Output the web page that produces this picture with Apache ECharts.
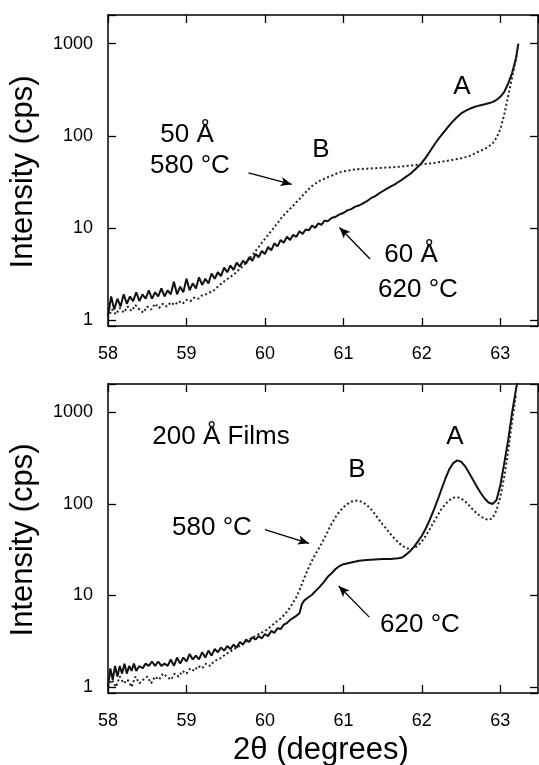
<!DOCTYPE html>
<html><head><meta charset="utf-8">
<script src="https://cdn.jsdelivr.net/npm/echarts@6/dist/echarts.min.js"></script>
<style>html,body{margin:0;padding:0;background:#fff}#c{width:539px;height:765px}</style>
</head><body><div id="c"></div>
<script>
// ---- data ----
const xTicks = [58, 59, 60, 61, 62, 63];
const yTicks = [1, 10, 100, 1000];

// Top panel: 60 Å, 620 °C (solid)
const top620 = [
[58.00,1.1],[58.04,1.8],[58.08,1.3],[58.12,1.7],[58.16,1.4],[58.20,1.9],[58.24,1.5],[58.28,1.8],[58.32,1.6],[58.36,2.0],
[58.40,1.6],[58.44,1.9],[58.48,1.7],[58.52,2.1],[58.56,1.7],[58.60,2.0],[58.64,1.8],[58.68,2.2],[58.72,1.8],[58.76,2.1],
[58.80,1.9],[58.84,2.6],[58.88,1.9],[58.92,2.3],[58.96,2.0],[59.00,2.8],[59.04,2.1],[59.08,2.5],[59.12,2.2],[59.16,2.9],
[59.20,2.4],[59.24,2.8],[59.28,2.5],[59.32,3.2],[59.36,2.8],[59.40,3.3],[59.44,3.0],[59.48,3.7],[59.52,3.3],[59.56,3.9],
[59.60,3.5],[59.64,4.2],[59.68,3.8],[59.72,4.4],[59.76,4.1],[59.80,4.8],[59.84,4.4],[59.88,5.2],[59.92,4.8],[59.96,5.6],
[60.00,5.2],[60.04,6.2],[60.08,5.7],[60.12,6.8],[60.16,6.3],[60.20,7.4],[60.24,6.9],[60.28,8.0],[60.32,7.4],[60.36,8.4],
[60.40,8.0],[60.44,9.2],[60.48,8.6],[60.52,9.6],[60.56,9.4],[60.60,10.6],[60.64,10.0],[60.68,11.2],[60.72,10.8],[60.76,12.0],
[60.80,11.8],[60.85,12.8],[60.90,13.2],[60.95,14.0],[61.00,14.5],[61.05,15.5],[61.10,16.0],[61.15,17.0],[61.20,17.5],[61.25,18.5],
[61.30,19.5],[61.35,21.0],[61.40,22.0],[61.45,23.5],[61.50,25.0],[61.55,26.5],[61.60,28.0],[61.65,29.5],[61.70,31.5],[61.75,33.5],
[61.80,36.0],[61.85,38.5],[61.90,42.0],[61.95,46.0],[62.00,51.0],[62.05,58.0],[62.10,67.0],[62.15,78.0],[62.20,90.0],[62.25,102],
[62.30,115],[62.35,130],[62.40,145],[62.45,160],[62.50,175],[62.55,185],[62.60,195],[62.65,203],[62.70,210],[62.75,215],
[62.80,220],[62.85,226],[62.90,232],[62.95,245],[63.00,265],[63.05,300],[63.10,370],[63.15,480],[63.20,700],[63.23,1000]
];
// Top panel: 50 Å, 580 °C (dotted)
const top580 = [
[58.00,1.05],[58.05,1.3],[58.10,1.15],[58.15,1.35],[58.20,1.2],[58.25,1.4],[58.30,1.25],[58.35,1.45],[58.40,1.3],[58.45,1.2],
[58.50,1.4],[58.55,1.3],[58.60,1.5],[58.65,1.35],[58.70,1.5],[58.75,1.4],[58.80,1.55],[58.85,1.45],[58.90,1.6],[58.95,1.5],
[59.00,1.65],[59.05,1.6],[59.10,1.75],[59.15,1.7],[59.20,1.85],[59.25,1.9],[59.30,2.0],[59.35,2.1],[59.40,2.3],[59.45,2.5],
[59.50,2.7],[59.55,2.9],[59.60,3.1],[59.65,3.4],[59.70,3.7],[59.75,4.1],[59.80,4.6],[59.85,5.2],[59.90,5.9],[59.95,6.7],
[60.00,7.6],[60.05,8.6],[60.10,9.7],[60.15,11.0],[60.20,12.5],[60.25,14.0],[60.30,15.5],[60.35,17.0],[60.40,19.0],[60.45,21.0],
[60.50,23.5],[60.55,26.0],[60.60,28.5],[60.65,30.5],[60.70,32.5],[60.75,34.0],[60.80,35.5],[60.85,37.0],[60.90,38.5],[60.95,40.0],
[61.00,41.0],[61.10,42.5],[61.20,43.5],[61.30,44.0],[61.40,44.5],[61.50,45.0],[61.60,45.5],[61.70,46.0],[61.80,47.0],[61.90,48.0],
[62.00,49.0],[62.10,50.0],[62.20,51.5],[62.30,53.0],[62.40,55.0],[62.50,57.0],[62.60,60.0],[62.70,66.0],[62.80,72.0],[62.90,82.0],
[62.95,95],[63.00,118],[63.05,170],[63.10,270],[63.15,430],[63.20,680],[63.22,900]
];
// Bottom panel: 200 Å, 620 °C (solid)
const bot620 = [
[58.00,1.0],[58.03,1.6],[58.06,1.2],[58.09,1.7],[58.12,1.3],[58.15,1.7],[58.18,1.4],[58.21,1.8],[58.24,1.4],[58.27,1.7],
[58.30,1.5],[58.33,1.8],[58.36,1.5],[58.40,1.7],[58.44,1.6],[58.48,1.8],[58.52,1.7],[58.56,1.9],[58.60,1.7],[58.64,1.9],
[58.68,1.7],[58.72,1.8],[58.76,1.7],[58.80,2.0],[58.84,1.7],[58.88,2.1],[58.92,1.8],[58.96,2.1],[59.00,1.9],[59.04,2.3],
[59.08,2.0],[59.12,2.2],[59.16,2.0],[59.20,2.4],[59.24,2.1],[59.28,2.5],[59.32,2.2],[59.36,2.6],[59.40,2.4],[59.44,2.7],
[59.48,2.5],[59.52,2.8],[59.56,2.6],[59.60,2.9],[59.64,2.7],[59.68,3.1],[59.72,2.9],[59.76,3.3],[59.80,3.1],[59.84,3.5],
[59.88,3.3],[59.92,3.6],[59.96,3.4],[60.00,3.8],[60.04,3.6],[60.08,4.1],[60.12,3.9],[60.16,4.4],[60.20,4.3],[60.24,4.8],
[60.28,5.0],[60.32,5.4],[60.36,5.7],[60.40,6.0],[60.44,6.4],[60.47,8.0],[60.50,8.8],[60.55,9.5],[60.60,10.2],[60.65,11.3],
[60.70,12.5],[60.75,14.0],[60.80,16.0],[60.85,17.5],[60.90,19.5],[60.95,21.0],[61.00,22.0],[61.10,23.0],[61.20,24.0],[61.30,24.5],
[61.40,24.8],[61.50,25.0],[61.60,25.0],[61.70,25.5],[61.75,26.0],[61.80,28.0],[61.85,30.5],[61.90,34.0],[61.95,39.0],[62.00,45.0],
[62.05,54.0],[62.10,67.0],[62.15,85.0],[62.20,110],[62.25,145],[62.30,190],[62.35,240],[62.40,280],[62.45,300],[62.50,290],
[62.55,260],[62.60,220],[62.65,185],[62.70,155],[62.75,132],[62.80,115],[62.85,104],[62.90,100],[62.95,110],[63.00,160],
[63.05,280],[63.10,500],[63.15,1000],[63.20,1800],[63.22,2200]
];
// Bottom panel: 200 Å, 580 °C (dotted)
const bot580 = [
[58.00,1.0],[58.05,1.2],[58.10,1.0],[58.15,1.3],[58.20,1.1],[58.25,1.2],[58.30,1.0],[58.35,1.3],[58.40,1.1],[58.45,1.2],
[58.50,1.3],[58.55,1.1],[58.60,1.3],[58.65,1.2],[58.70,1.4],[58.75,1.3],[58.80,1.2],[58.85,1.4],[58.90,1.3],[58.95,1.5],
[59.00,1.4],[59.05,1.6],[59.10,1.5],[59.15,1.7],[59.20,1.6],[59.25,1.8],[59.30,1.7],[59.35,1.9],[59.40,2.0],[59.45,2.1],
[59.50,2.3],[59.55,2.4],[59.60,2.6],[59.65,2.7],[59.70,2.9],[59.75,3.1],[59.80,3.3],[59.85,3.5],[59.90,3.7],[59.95,3.9],
[60.00,4.1],[60.05,4.4],[60.10,4.8],[60.15,5.2],[60.20,5.6],[60.25,6.2],[60.30,7.0],[60.35,8.1],[60.40,9.6],[60.45,12.0],
[60.50,15.5],[60.55,19.5],[60.60,24.0],[60.65,29.0],[60.70,34.0],[60.75,41.0],[60.80,50.0],[60.85,61.0],[60.90,72.0],[60.95,83.0],
[61.00,92.0],[61.05,100],[61.10,106],[61.15,109],[61.20,108],[61.25,104],[61.30,97],[61.35,88],[61.40,78],[61.45,68],
[61.50,60],[61.55,53],[61.60,47],[61.65,42],[61.70,38],[61.75,35],[61.80,33],[61.85,32],[61.90,33],[61.95,35],
[62.00,39],[62.05,45],[62.10,53],[62.15,63],[62.20,75],[62.25,88],[62.30,100],[62.35,110],[62.40,117],[62.45,119],
[62.50,115],[62.55,107],[62.60,97],[62.65,87],[62.70,79],[62.75,73],[62.80,69],[62.85,67],[62.90,70],[62.95,85],
[63.00,120],[63.05,200],[63.10,380],[63.15,800],[63.20,1600]
];

// ---- chart ----
const FONT = '"Liberation Sans", Arial, Helvetica, sans-serif';
const chart = echarts.init(document.getElementById('c'), null, {renderer: 'canvas'});
const grids = [
  {left: 108, top: 15, width: 430, height: 311},
  {left: 108, top: 384, width: 430, height: 309}
];
const isPow10 = v => Math.abs(Math.log10(v) - Math.round(Math.log10(v))) < 1e-6;
const axisLine = {show: true, onZero: false, lineStyle: {color: '#000', width: 1.5}};
const tick = {show: true, inside: true, length: 8, lineStyle: {color: '#000', width: 1.3}};
const xAxes = [], yAxes = [];
grids.forEach((g, i) => {
  xAxes.push({gridIndex: i, type: 'value', position: 'bottom', min: 58, max: 63.48, interval: 1,
    axisLine, axisTick: tick, splitLine: {show: false},
    axisLabel: {show: true, margin: 19, fontSize: 18, color: '#000', fontFamily: FONT,
      showMaxLabel: false,
      formatter: v => (xTicks.includes(v) ? String(v) : '')}});
  xAxes.push({gridIndex: i, type: 'value', position: 'top', min: 58, max: 63.48, interval: 1,
    axisLine, axisTick: tick, splitLine: {show: false}, axisLabel: {show: false}});
  yAxes.push({gridIndex: i, type: 'log', logBase: 10, position: 'left', min: 0.86, max: 2050,
    axisLine, axisTick: tick, splitLine: {show: false}, minorTick: {show: false},
    axisLabel: {show: true, margin: 15, fontSize: 18, color: '#000', fontFamily: FONT,
      formatter: v => (isPow10(v) && yTicks.includes(Math.round(v)) ? String(Math.round(v)) : '')}});
  yAxes.push({gridIndex: i, type: 'log', logBase: 10, position: 'right', min: 0.86, max: 2050,
    axisLine, axisTick: tick, splitLine: {show: false}, axisLabel: {show: false}});
});

const arrowLine = (pairs) => ({
  silent: true, symbol: ['none', 'arrow'], symbolSize: [7, 11], animation: false,
  lineStyle: {color: '#000', width: 1.3, type: 'solid'}, label: {show: false},
  data: pairs.map(p => [{coord: p[0]}, {coord: p[1]}])
});
const solid = {color: '#111', width: 2};
const dotted = {color: '#222', width: 2, type: [2, 2.5]};
const mk = (data, xi, yi, ls, extra) => Object.assign({
  type: 'line', data, xAxisIndex: xi, yAxisIndex: yi, showSymbol: false, symbol: 'none',
  lineStyle: ls, clip: true, animation: false, silent: true, z: 3
}, extra || {});

const series = [
  mk(top620, 0, 0, solid, {markLine: arrowLine([[[61.34, 4.6], [60.95, 10.1]]])}),
  mk(top580, 0, 0, dotted, {markLine: arrowLine([[[59.79, 39.5], [60.34, 29.7]]])}),
  mk(bot620, 2, 2, solid, {markLine: arrowLine([[[61.33, 5.8], [60.94, 12.7]]])}),
  mk(bot580, 2, 2, dotted, {markLine: arrowLine([[[60.0, 52.4], [60.56, 37.2]]])})
];

const txt = (text, x, y, size, rot) => ({
  type: 'text', x, y, rotation: rot || 0, silent: true, z: 10,
  style: {text, font: size + 'px ' + FONT, fill: '#000',
    align: 'center', verticalAlign: 'middle', textAlign: 'center', textVerticalAlign: 'middle'}
});
const graphic = [
  txt('Intensity (cps)', 23, 172, 31, Math.PI / 2),
  txt('Intensity (cps)', 23, 540, 31, Math.PI / 2),
  txt('2θ (degrees)', 321, 750, 31),
  txt('50 Å', 187, 135, 26),
  txt('580 °C', 190, 166, 26),
  txt('B', 321, 150, 26),
  txt('A', 462, 87, 26),
  txt('60 Å', 411, 255, 26),
  txt('620 °C', 418, 290, 26),
  txt('200 Å Films', 221, 437, 26),
  txt('B', 357, 470, 26),
  txt('A', 455, 437, 26),
  txt('580 °C', 212, 528, 26),
  txt('620 °C', 420, 625, 26)
];

chart.setOption({
  animation: false,
  backgroundColor: '#fff',
  grid: grids,
  xAxis: xAxes,
  yAxis: yAxes,
  series,
  graphic
});
</script>
</body></html>
